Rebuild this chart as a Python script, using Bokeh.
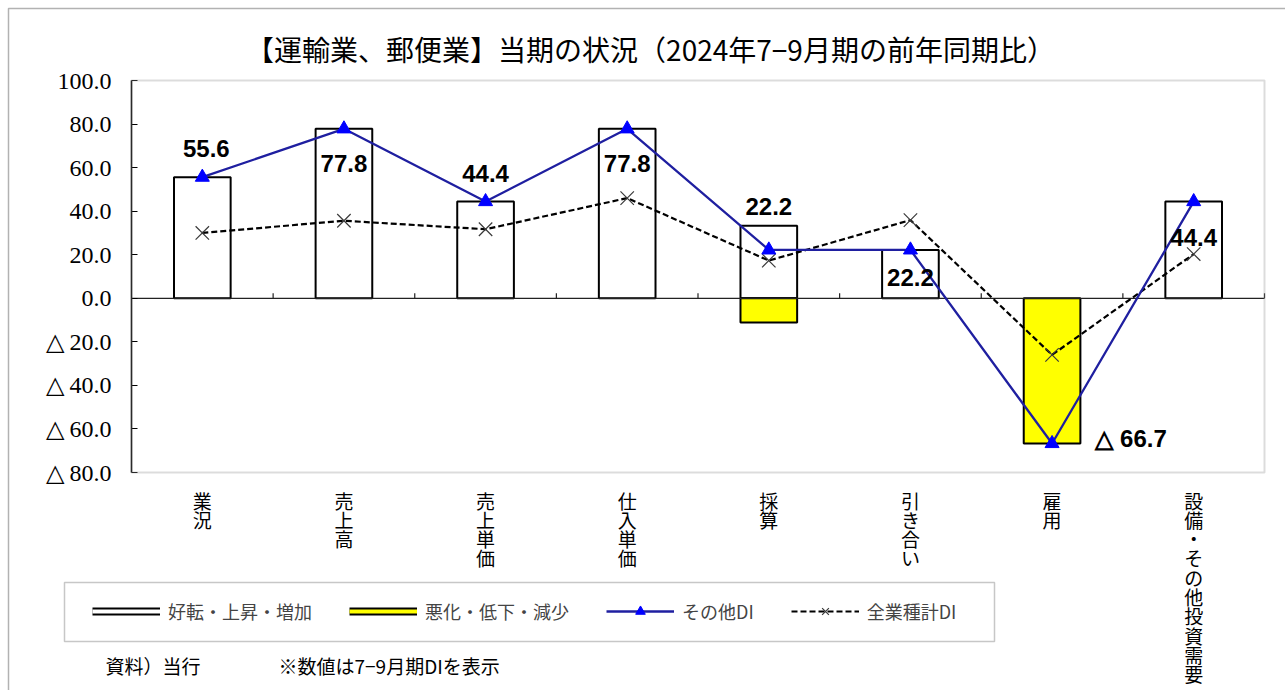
from bokeh.plotting import figure
from bokeh.models import (Range1d, FixedTicker, Label, BoxAnnotation,
                          Legend, LegendItem, ColumnDataSource)
from bokeh.core.properties import value
from bokeh.embed import file_html
from bokeh.resources import INLINE

# ---------------- data ----------------
categories = ["業況", "売上高", "売上単価", "仕入単価", "採算", "引き合い", "雇用", "設備・その他投資需要"]
improve = [55.6, 77.8, 44.4, 77.8, 33.3, 22.2, 0.0, 44.4]      # 好転・上昇・増加
worsen = [0.0, 0.0, 0.0, 0.0, -11.1, 0.0, -66.7, 0.0]          # 悪化・低下・減少
other_di = [55.6, 77.8, 44.4, 77.8, 22.2, 22.2, -66.7, 44.4]    # その他DI
all_di = [30.0, 35.6, 31.7, 46.0, 17.3, 35.9, -26.0, 20.3]      # 全業種計DI
y_ticks = [-80, -60, -40, -20, 0, 20, 40, 60, 80, 100]
y_tick_labels = ["△ 80.0", "△ 60.0", "△ 40.0", "△ 20.0", "0.0", "20.0", "40.0", "60.0", "80.0", "100.0"]
series_names = ["好転・上昇・増加", "悪化・低下・減少", "その他DI", "全業種計DI"]
title_text = "【運輸業、郵便業】当期の状況（2024年7−9月期の前年同期比）"
source_note = "資料）当行"
value_note = "※数値は7−9月期DIを表示"

# ---------------- layout / style (screen px) ----------------
label_dx = [4, 0, 0, 0, 0, 0, 79, 0]
label_dy = [-29, 35, -28, 35, -43, 28, -5, 36]
JP = "Noto Sans CJK JP"
NAN = float("nan")

W, H = 1285, 690
FL, FR, FT, FB = 131, 1264, 80, 472      # plot-area edges on the page
n = len(categories)
xs = list(range(n))
x_lo, x_hi = -0.5, n - 0.5
y_lo, y_hi = y_ticks[0], y_ticks[-1]
ppx = (FR - FL) / (x_hi - x_lo)
ppy = (FB - FT) / (y_hi - y_lo)

p = figure(width=W, height=H, output_backend="svg", toolbar_location=None,
           x_range=Range1d(x_lo - FL / ppx, x_hi + (W - FR) / ppx),
           y_range=Range1d(y_lo - (H - FB) / ppy, y_hi + FT / ppy),
           x_axis_location=None, y_axis_location="left", min_border=0)
p.title.visible = False
p.background_fill_color = "white"
p.border_fill_color = "white"
p.outline_line_color = None
p.xgrid.visible = False
p.ygrid.visible = False

# plot-area border (gray)
p.add_layout(BoxAnnotation(left=x_lo, right=x_hi, bottom=y_lo, top=y_hi,
                           fill_alpha=0, line_color="#8a8a8a", line_width=2))

# y axis placed at the left edge of the plot area
yax = p.yaxis[0]
yax.fixed_location = x_lo
yax.bounds = (y_lo, y_hi)
yax.ticker = FixedTicker(ticks=y_ticks)
yax.major_label_overrides = {t: l for t, l in zip(y_ticks, y_tick_labels)}
yax.major_label_text_font = "Liberation Serif"
yax.major_label_text_font_size = "24px"
yax.major_label_text_color = "black"
yax.major_tick_in = 6
yax.major_tick_out = 0
yax.minor_tick_line_color = None
yax.major_label_standoff = 20
yax.axis_line_color = "black"
yax.axis_line_width = 1.5
yax.major_tick_line_color = "black"

# category labels, written vertically (one character per line)
cx, cy, ct, cdy = [], [], [], []
pitch = 19.3
for i, c in enumerate(categories):
    for j, ch in enumerate(c):
        cx.append(i)
        cy.append(y_lo)
        ct.append(ch)
        cdy.append(14 + j * pitch)
p.text(x=cx, y=cy, text=ct, y_offset=cdy, text_font=value(JP), text_font_size="19px",
       text_color="black", text_align="center", text_baseline="top")

# bars
imp_x = [x for x, v in zip(xs, improve) if v != 0]
imp_v = [v for v in improve if v != 0]
wor_x = [x for x, v in zip(xs, worsen) if v != 0]
wor_v = [v for v in worsen if v != 0]
p.vbar(x=imp_x, top=imp_v, bottom=0, width=0.4, fill_color="white",
       line_color="black", line_width=2)
p.vbar(x=wor_x, top=0, bottom=wor_v, width=0.4, fill_color="#FFFF00",
       line_color="black", line_width=2)

# zero line and category-boundary ticks
p.segment(x0=[x_lo], y0=[0], x1=[x_hi], y1=[0], line_color="#222222", line_width=1.2)
bounds = [i + 0.5 for i in xs]
p.segment(x0=bounds, y0=[0] * n, x1=bounds, y1=[5 / ppy] * n,
          line_color="#222222", line_width=1.2)

# lines
r_all_line = p.line(x=xs, y=all_di, line_color="black", line_width=2.2, line_dash="6 3")
r_all_pts = p.scatter(x=xs, y=all_di, marker="x", size=19, line_color="#3a3a3a",
                      line_width=1.2)
r_oth_line = p.line(x=xs, y=other_di, line_color="#1f1fa0", line_width=2.3)
r_oth_pts = p.scatter(x=xs, y=other_di, marker="triangle", size=14,
                      fill_color="#0000FF", line_color="#0000FF")

# data labels
lab_src = ColumnDataSource(dict(
    x=xs, y=other_di,
    t=[f"{v:.1f}" if v >= 0 else f"△ {abs(v):.1f}" for v in other_di],
    dx=label_dx, dy=label_dy))
p.text(x="x", y="y", text="t", x_offset="dx", y_offset="dy", source=lab_src,
       text_font=value("Liberation Sans"), text_font_style="bold", text_font_size="24px",
       text_color="black", text_align="center", text_baseline="middle")

# legend swatch proxies for the bar series (NaN data: nothing drawn in the plot)
px_b1 = p.line(x=[0, 1], y=[NAN, NAN], line_color="black", line_width=8)
px_f1 = p.line(x=[0, 1], y=[NAN, NAN], line_color="white", line_width=4)
px_b2 = p.line(x=[0, 1], y=[NAN, NAN], line_color="black", line_width=8)
px_f2 = p.line(x=[0, 1], y=[NAN, NAN], line_color="#FFFF00", line_width=4)

legend = Legend(items=[
    LegendItem(label=series_names[0], renderers=[px_b1, px_f1]),
    LegendItem(label=series_names[1], renderers=[px_b2, px_f2]),
    LegendItem(label=series_names[2], renderers=[r_oth_line, r_oth_pts]),
    LegendItem(label=series_names[3], renderers=[r_all_line, r_all_pts]),
], orientation="horizontal", location=(92, H - 624),
    glyph_width=68, glyph_height=24, label_standoff=8, spacing=37, padding=10,
    label_text_font=JP, label_text_font_size="18px", label_height=24,
    border_line_color=None, background_fill_alpha=0, margin=0)
p.add_layout(legend, "center")

# legend frame
p.add_layout(BoxAnnotation(left=64, right=994, top=H - 582, bottom=H - 641,
                           left_units="screen", right_units="screen",
                           top_units="screen", bottom_units="screen",
                           fill_alpha=0, line_color="#444444", line_width=1.5))
# outer frame (left and top edges visible)
p.add_layout(BoxAnnotation(left=8, right=W + 50, top=H - 8, bottom=-50,
                           left_units="screen", right_units="screen",
                           top_units="screen", bottom_units="screen",
                           fill_alpha=0, line_color="black", line_width=1.5))

# title and notes
p.add_layout(Label(x=650, y=H - 48, x_units="screen", y_units="screen",
                   text=title_text, text_font=JP, text_font_size="28px",
                   text_align="center", text_baseline="middle", text_color="black"))
p.add_layout(Label(x=105, y=H - 665, x_units="screen", y_units="screen",
                   text=source_note, text_font=JP, text_font_size="19px",
                   text_align="left", text_baseline="middle", text_color="black"))
p.add_layout(Label(x=278, y=H - 665, x_units="screen", y_units="screen",
                   text=value_note, text_font=JP, text_font_size="19px",
                   text_align="left", text_baseline="middle", text_color="black"))

open("out.html", "w").write(file_html(p, INLINE))
